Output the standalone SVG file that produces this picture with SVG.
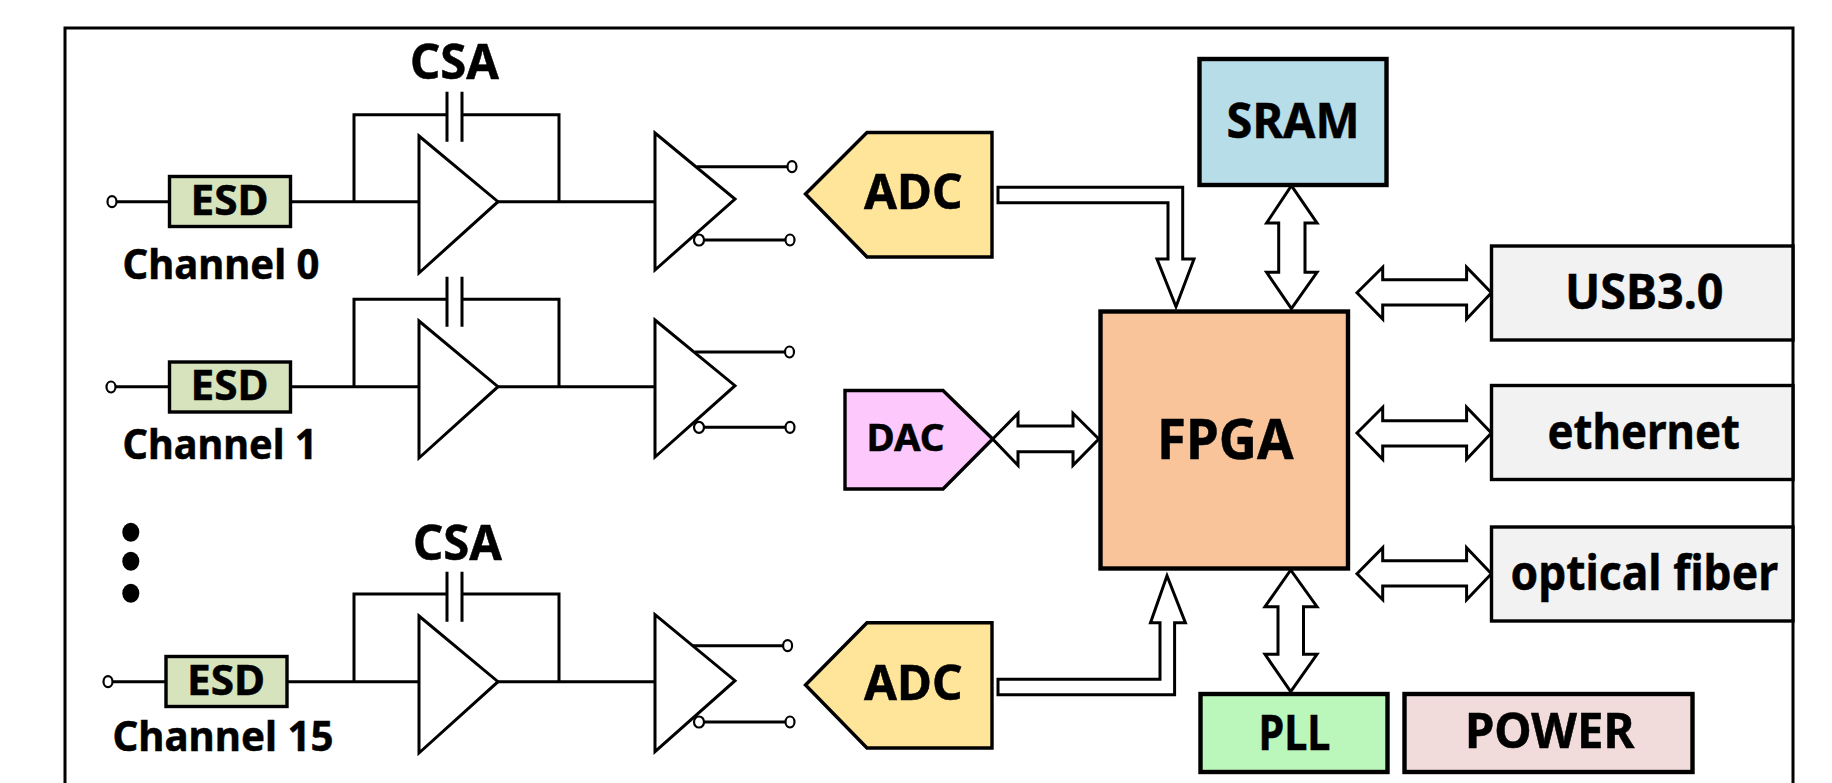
<svg xmlns="http://www.w3.org/2000/svg" width="1832" height="783" viewBox="0 0 1832 783">
<style>
text{font-family:"Noto Sans","Open Sans","Liberation Sans",sans-serif;font-weight:700;fill:#000;stroke:#000;stroke-width:.5}
.w{fill:none;stroke:#000;stroke-width:3}
.b{fill:#fff;stroke:#000;stroke-width:3;stroke-linejoin:miter}
.t{fill:none;stroke:#000;stroke-width:3;stroke-linejoin:miter}
.n{stroke:#000;stroke-width:3.4}
.h{stroke:#000;stroke-width:4.4}
.c{fill:#fff;stroke:#000;stroke-width:2.2}
.s{font-size:42px}
.m{font-size:41px}
.l{font-size:49px}
</style>
<rect width="1832" height="783" fill="#fff"/>
<path id="frame" d="M65 783V28H1793V783" fill="none" stroke="#000" stroke-width="3"/>
<g id="connectors">
<path class="w" d="M117 201.7H169M291 201.7H419M354 201.7V114.7H447M462 114.7H559V201.7M498 201.7H655M697 166.7H787M704 240H785M447 91.7V141.7M462 91.7V141.7"/>
<path class="w" d="M116 386.7H169M291 386.7H419M354 386.7V299.3H447M462 299.3H559V386.7M498 386.7H655M695 352H785M704 427.3H785M447 276.7V326.7M462 276.7V326.7"/>
<path class="w" d="M113 681.7H166M287 681.7H419M354 681.7V594H447M462 594H559V681.7M498 681.7H655M693 645.7H783M704 722H785M447 571.7V621.7M462 571.7V621.7"/>
<path class="b" d="M998 187.3H1182.7V259H1194L1176 306.7L1157 259H1168V202.7H998Z"/>
<path class="b" d="M1291.4 185.7L1317 223H1305V272.3H1317L1291.4 308.7L1266.6 272.3H1278.7V223H1266.6Z"/>
<path class="b" d="M1357 292.7L1382.7 267.3V279.7H1466.6V267.3L1491.4 292.7L1466.6 319V305H1382.7V319Z"/>
<path class="b" d="M1357 433L1382.7 407.3V420.7H1466.6V407.3L1491.4 433L1466.6 459.3V446H1382.7V459.3Z"/>
<path class="b" d="M1357 573.7L1382.7 547.7V560.7H1466.6V547.7L1491.4 573.7L1466.6 599.7V586H1382.7V599.7Z"/>
<path class="b" d="M992.7 439L1018 413.3V426H1073V413.3L1098.8 439L1073 465.3V451.7H1018V465.3Z"/>
<path class="b" d="M998 679.3H1160V622.7H1150.5L1167 575.7L1185.4 622.7H1174.6V694.7H998Z"/>
<path class="b" d="M1290.7 570L1317 606.7H1303.5V654.3H1317L1290.7 691.7L1265 654.3H1278V606.7H1265Z"/>
</g>
<g id="terminals">
<ellipse class="c" cx="112" cy="201.7" rx="4.5" ry="5.5"/><ellipse class="c" cx="792" cy="166.7" rx="4.5" ry="5.5"/><ellipse class="c" cx="699" cy="240" rx="5" ry="5.5"/><ellipse class="c" cx="790" cy="240" rx="4.5" ry="5.5"/>
<ellipse class="c" cx="111" cy="387" rx="4.5" ry="5.5"/><ellipse class="c" cx="789.5" cy="352" rx="4.5" ry="5.5"/><ellipse class="c" cx="699" cy="427.3" rx="5" ry="5.5"/><ellipse class="c" cx="790" cy="427.3" rx="4.5" ry="5.5"/>
<ellipse class="c" cx="108" cy="681.7" rx="4.5" ry="5.5"/><ellipse class="c" cx="787.6" cy="645.7" rx="4.5" ry="5.5"/><ellipse class="c" cx="699" cy="722" rx="5" ry="5.5"/><ellipse class="c" cx="790" cy="722" rx="4.5" ry="5.5"/>
</g>
<g id="amp0"><path class="t" d="M419 136L498 201.7L419 273ZM655 133L735 199L655 270Z"/></g>
<g id="amp1"><path class="t" d="M419 321L498 386.7L419 458ZM655 320L735 385.7L655 457Z"/></g>
<g id="amp15"><path class="t" d="M419 616L498 681.7L419 753ZM655 614.7L735 680.7L655 751.7Z"/></g>
<g id="esd0"><rect class="n" x="169.5" y="176.5" width="121" height="50" fill="#d7e3bc"/><text class="s" x="190.5" y="214.5" textLength="78" lengthAdjust="spacingAndGlyphs">ESD</text></g>
<g id="esd1"><rect class="n" x="169.5" y="362" width="121" height="50" fill="#d7e3bc"/><text class="s" x="190.5" y="399.5" textLength="78" lengthAdjust="spacingAndGlyphs">ESD</text></g>
<g id="esd15"><rect class="n" x="166" y="656.5" width="121" height="50" fill="#d7e3bc"/><text class="s" x="187" y="695" textLength="78" lengthAdjust="spacingAndGlyphs">ESD</text></g>
<g id="labels">
<text class="m" x="122.5" y="279" textLength="197" lengthAdjust="spacingAndGlyphs">Channel 0</text>
<text class="m" x="122.5" y="459" textLength="195" lengthAdjust="spacingAndGlyphs">Channel 1</text>
<text class="m" x="112.5" y="751" textLength="221" lengthAdjust="spacingAndGlyphs">Channel 15</text>
<text class="l" x="410" y="78.5" textLength="89" lengthAdjust="spacingAndGlyphs">CSA</text>
<text class="l" x="413" y="560" textLength="89" lengthAdjust="spacingAndGlyphs">CSA</text>
<g id="ellipsis"><ellipse cx="130.8" cy="532.3" rx="8.5" ry="9.5"/><ellipse cx="130.8" cy="561.3" rx="8.5" ry="9.5"/><ellipse cx="130.8" cy="593.3" rx="8.5" ry="9.5"/></g>
</g>
<g id="adc0"><path class="n" d="M805.5 194L867 132.5H992V257H867Z" fill="#fee599"/><text class="l" x="864" y="208.5" textLength="98.5" lengthAdjust="spacingAndGlyphs">ADC</text></g>
<g id="adc15"><path class="n" d="M805.5 685L867 622.8H992V748H867Z" fill="#fee599"/><text class="l" x="864" y="700" textLength="98.5" lengthAdjust="spacingAndGlyphs">ADC</text></g>
<g id="dac"><path class="n" d="M845 390.5H943L992.7 439L943 489H845Z" fill="#fdc9fd"/><text x="866.5" y="451.2" font-size="37" textLength="78" lengthAdjust="spacingAndGlyphs">DAC</text></g>
<g id="sram"><rect class="h" x="1199.5" y="59" width="187" height="126" fill="#b7dde8"/><text class="l" x="1226.6" y="137.5" textLength="133" lengthAdjust="spacingAndGlyphs">SRAM</text></g>
<g id="fpga"><rect class="h" x="1100.5" y="311.5" width="247.5" height="257" fill="#f9c499"/><text x="1157" y="458.5" font-size="55" textLength="136.5" lengthAdjust="spacingAndGlyphs">FPGA</text></g>
<g id="usb"><rect class="n" x="1491.5" y="246" width="301.5" height="94" fill="#f2f2f2"/><text class="l" x="1565" y="308.8" textLength="158.5" lengthAdjust="spacingAndGlyphs">USB3.0</text></g>
<g id="ethernet"><rect class="n" x="1491.5" y="385.5" width="301.5" height="94" fill="#f2f2f2"/><text class="l" x="1547.5" y="449" textLength="192.5" lengthAdjust="spacingAndGlyphs">ethernet</text></g>
<g id="optical"><rect class="n" x="1491.5" y="527" width="301.5" height="94" fill="#f2f2f2"/><text class="l" x="1510.5" y="590" textLength="267.5" lengthAdjust="spacingAndGlyphs">optical fiber</text></g>
<g id="pll"><rect class="h" x="1200.5" y="694" width="187" height="78" fill="#bbf7bb"/><text class="l" x="1258.5" y="750" textLength="72" lengthAdjust="spacingAndGlyphs">PLL</text></g>
<g id="power"><rect class="h" x="1404.5" y="694" width="288" height="78" fill="#f1dcdb"/><text class="l" x="1465" y="748" textLength="169.5" lengthAdjust="spacingAndGlyphs">POWER</text></g>
</svg>
